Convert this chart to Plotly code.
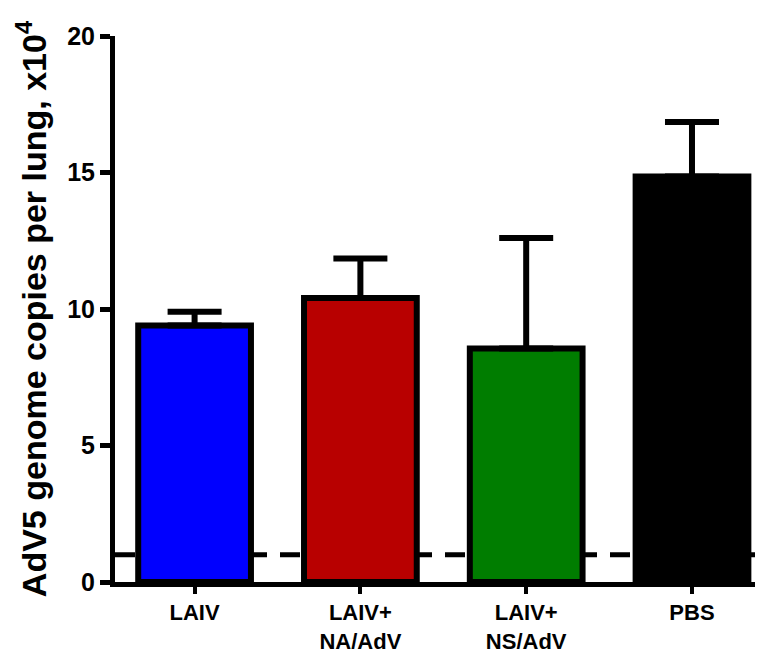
import plotly.graph_objects as go

categories = ["LAIV", "LAIV+<br>NA/AdV", "LAIV+<br>NS/AdV", "PBS"]
means = [9.4, 10.4, 8.55, 14.85]
sem = [0.5, 1.45, 4.05, 2.0]
colors = ["#0000ff", "#b80000", "#007d00", "#000000"]
detection_limit = 1.0
y_ticks = [0, 5, 10, 15, 20]

fig = go.Figure()
fig.add_trace(go.Bar(
    x=categories, y=means,
    width=0.68,
    marker=dict(color=colors, line=dict(color="black", width=6)),
    error_y=dict(type="data", symmetric=False, array=sem,
                 arrayminus=[0]*len(sem), color="black", thickness=6, width=27),
))

fig.add_shape(type="line", xref="paper", x0=0, x1=1, yref="y",
              y0=detection_limit, y1=detection_limit, layer="below",
              line=dict(color="black", width=5, dash="20px,13px"))

font = "Liberation Sans, Arial, sans-serif"
fig.update_layout(
    width=761, height=655,
    margin=dict(l=115, r=6, t=36, b=73),
    plot_bgcolor="white", paper_bgcolor="white",
    showlegend=False,
    font=dict(family=font, color="black"),
)
fig.update_xaxes(
    range=[-0.48, 3.38], automargin=False,
    showline=True, linecolor="black", linewidth=5,
    ticks="outside", ticklen=7, tickwidth=4, tickcolor="black",
    tickfont=dict(size=22, family=font, weight="bold"),
    showgrid=False, zeroline=False,
)
fig.update_yaxes(
    range=[0, 20], tickvals=y_ticks, automargin=False,
    showline=True, linecolor="black", linewidth=5,
    ticks="outside", ticklen=10, tickwidth=5, tickcolor="black",
    tickfont=dict(size=25, family=font, weight="bold"),
    showgrid=False, zeroline=False,
    title=dict(text="AdV5 genome copies per lung, x10<sup>4</sup>",
               font=dict(size=34, family=font, weight="bold"), standoff=12),
)

fig.write_html("out.html", config={"displayModeBar": False},
               post_script="document.body.style.margin='0px';document.body.style.overflow='hidden';")
